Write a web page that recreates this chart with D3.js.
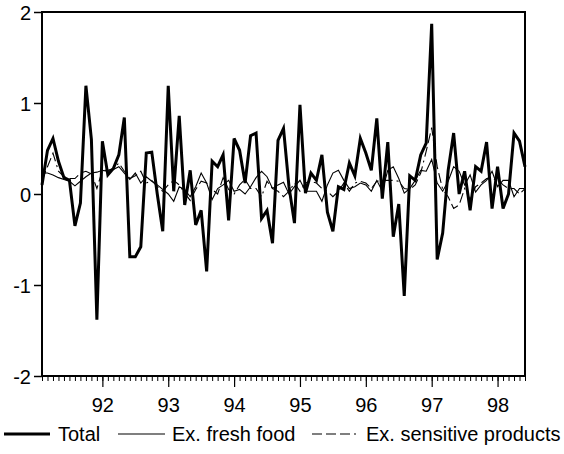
<!DOCTYPE html>
<html>
<head>
<meta charset="utf-8">
<script src="https://cdn.jsdelivr.net/npm/d3@7"></script>
<style>
  html, body { margin: 0; padding: 0; background: #fff; }
  svg { display: block; }
  text { font-family: "Liberation Sans", Arial, sans-serif; fill: #000; }
</style>
</head>
<body>
<svg id="chart" width="564" height="454"></svg>
<script>
// Monthly changes, 1991:02 – 1998:06
const firstYear = 1991, firstMonth = 2;
const yearTicks = [1992, 1993, 1994, 1995, 1996, 1997, 1998];
const yearLabels = ["92", "93", "94", "95", "96", "97", "98"];
const yTicks = [-2, -1, 0, 1, 2];
const seriesNames = ["Total", "Ex. fresh food", "Ex. sensitive products"];

const total = [
  0.10, 0.48, 0.61, 0.36, 0.18, 0.15, -0.35, -0.10, 1.19, 0.60, -1.38,
  0.58, 0.21, 0.28, 0.43, 0.84, -0.69, -0.69, -0.58, 0.45, 0.46, 0.00, -0.41,
  1.19, 0.03, 0.86, -0.12, 0.26, -0.34, -0.18, -0.85, 0.36, 0.30, 0.43, -0.29,
  0.61, 0.48, 0.12, 0.64, 0.67, -0.27, -0.18, -0.54, 0.59, 0.72, 0.08, -0.32,
  0.98, 0.01, 0.23, 0.15, 0.43, -0.20, -0.41, 0.08, 0.05, 0.34, 0.20, 0.61,
  0.45, 0.26, 0.83, -0.05, 0.57, -0.47, -0.11, -1.12, 0.20, 0.15, 0.43, 0.56,
  1.87, -0.72, -0.43, 0.26, 0.67, 0.00, 0.25, -0.18, 0.30, 0.25, 0.57, -0.16,
  0.30, -0.16, 0.00, 0.67, 0.58, 0.30
];
const exFreshFood = [
  0.23, 0.23, 0.21, 0.18, 0.16, 0.14, 0.09, 0.14, 0.19, 0.23, 0.24,
  0.26, 0.25, 0.27, 0.30, 0.23, 0.16, 0.23, 0.12, 0.19, 0.14, 0.10, 0.05,
  0.00, -0.08, 0.08, 0.05, -0.03, 0.08, 0.23, 0.12, -0.06, 0.06, 0.10, 0.15,
  0.03, 0.05, 0.00, 0.08, 0.18, 0.25, 0.19, 0.06, 0.10, 0.13, 0.00, 0.08,
  0.15, 0.03, 0.03, 0.03, -0.08, 0.10, 0.23, 0.26, 0.15, 0.06, 0.08, 0.12,
  0.10, 0.03, 0.15, 0.03, 0.26, 0.30, 0.17, 0.01, 0.06, 0.15, 0.26, 0.25,
  0.38, 0.12, 0.03, 0.14, 0.30, 0.25, 0.10, 0.21, 0.02, 0.10, 0.15, 0.25,
  0.08, 0.15, 0.15, -0.03, 0.06, 0.06
];
const exSensitive = [
  0.15, 0.30, 0.45, 0.25, 0.19, 0.17, 0.17, 0.23, 0.25, 0.22, 0.06,
  0.26, 0.26, 0.28, 0.34, 0.25, 0.17, 0.20, 0.25, 0.12, 0.15, 0.08, 0.03,
  0.10, 0.15, 0.10, 0.01, -0.07, 0.05, 0.14, 0.12, 0.05, 0.00, 0.18, 0.05,
  0.00, 0.10, 0.16, 0.06, 0.06, -0.03, 0.14, 0.06, 0.03, -0.03, 0.03, 0.12,
  0.03, 0.12, 0.14, 0.12, 0.06, 0.03, -0.03, 0.03, 0.12, 0.03, 0.12, 0.14,
  0.12, 0.06, 0.14, 0.15, 0.15, 0.15, 0.14, 0.06, 0.05, 0.10, 0.23, 0.47,
  0.73, 0.30, 0.05, -0.03, -0.16, -0.12, 0.06, -0.06, 0.08, 0.12, 0.17, 0.16,
  0.16, 0.10, 0.06, 0.06, 0.00, 0.06
];

// fractional-year position of the i-th monthly observation
const monthPos = i => firstYear + (firstMonth - 1 + i) / 12;
const n = total.length;
const months = d3.range(n).map(monthPos);

const plot = { left: 42, right: 525, top: 12, bottom: 376 };
const fontSize = 20;

const svg = d3.select("#chart");

const x = d3.scaleLinear().domain([months[0], months[n - 1]]).range([plot.left, plot.right]);
const y = d3.scaleLinear().domain([-2, 2]).range([plot.bottom, plot.top]);

// y axis
const yAxis = svg.append("g")
  .attr("transform", `translate(${plot.left},0)`)
  .call(d3.axisLeft(y).tickValues(yTicks).tickSize(8).tickPadding(3)
    .tickFormat(d => String(d)));
yAxis.select(".domain").remove();
yAxis.selectAll(".tick line").attr("stroke", "#000").attr("stroke-width", 1.5);
yAxis.selectAll(".tick text")
  .attr("font-size", fontSize)
  .attr("dy", "0.35em");

// monthly minor ticks
const xMinor = svg.append("g")
  .attr("transform", `translate(0,${plot.bottom})`)
  .call(d3.axisBottom(x).tickValues(months).tickSize(5).tickFormat(""));
xMinor.select(".domain").remove();
xMinor.selectAll(".tick line").attr("stroke", "#000").attr("stroke-width", 1);

// yearly major ticks with labels
const xMajor = svg.append("g")
  .attr("transform", `translate(0,${plot.bottom})`)
  .call(d3.axisBottom(x).tickValues(yearTicks).tickSize(11)
    .tickFormat((d, i) => yearLabels[i]));
xMajor.select(".domain").remove();
xMajor.selectAll(".tick line").attr("stroke", "#000").attr("stroke-width", 1.2);
xMajor.selectAll(".tick text")
  .attr("font-size", fontSize)
  .attr("y", 36)
  .attr("dy", null);

// series lines
const line = data => d3.line()
  .x((d, i) => x(months[i]))
  .y(d => y(d))(data);

const series = [
  { name: seriesNames[0], data: total, width: 3, dash: null },
  { name: seriesNames[1], data: exFreshFood, width: 1.1, dash: null },
  { name: seriesNames[2], data: exSensitive, width: 1.1, dash: "10,4,10,4,10,4,2,4" }
];

svg.append("g").selectAll("path")
  .data(series.slice().reverse())
  .join("path")
  .attr("d", s => line(s.data))
  .attr("fill", "none")
  .attr("stroke", "#000")
  .attr("stroke-width", s => s.width)
  .attr("stroke-linejoin", "miter")
  .attr("stroke-dasharray", s => s.dash);

// frame
svg.append("rect")
  .attr("x", plot.left).attr("y", plot.top)
  .attr("width", plot.right - plot.left).attr("height", plot.bottom - plot.top)
  .attr("fill", "none").attr("stroke", "#000").attr("stroke-width", 2);

// legend
const legendY = 434;
const legendItems = [
  { s: series[0], x0: 4, x1: 50, tx: 58 },
  { s: series[1], x0: 118, x1: 165, tx: 172 },
  { s: series[2], x0: 312, x1: 360, tx: 366 }
];
const lg = svg.append("g");
legendItems.forEach(it => {
  lg.append("line")
    .attr("x1", it.x0).attr("x2", it.x1)
    .attr("y1", legendY).attr("y2", legendY)
    .attr("stroke", "#000")
    .attr("stroke-width", it.s.width)
    .attr("stroke-dasharray", it.s.dash);
  lg.append("text")
    .attr("font-size", fontSize)
    .attr("x", it.tx)
    .attr("y", legendY + 7)
    .text(it.s.name);
});
</script>
</body>
</html>
